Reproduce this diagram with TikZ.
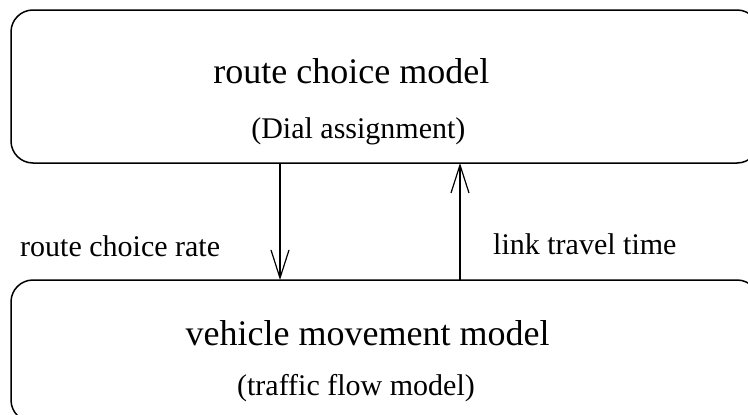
\documentclass[tikz,border=0pt]{standalone}
\usepackage{fontspec}
\setmainfont{Liberation Serif}
\usetikzlibrary{arrows.meta}

\begin{document}
\begin{tikzpicture}[x=1pt,y=-1pt,
    box/.style={draw,line width=1.5pt,rounded corners=22pt,inner sep=0pt,outer sep=0pt},
    title/.style={anchor=base,inner sep=0pt,font=\fontsize{36}{40}\selectfont},
    sub/.style={anchor=base,inner sep=0pt,font=\fontsize{30}{34}\selectfont},
    flow/.style={line width=1.2pt,-{Straight Barb[length=28pt,width=18pt,line width=1.2pt]}}]
    \useasboundingbox (0,0) rectangle (748,415);
    \clip (0,0) rectangle (748,415);
    \node[box,minimum width=748pt,minimum height=153pt] (rcm) at (385,86.5) {};
    \node[box,minimum width=748pt,minimum height=142pt] (vmm) at (385,351) {};
    \node[title] (rcmt) at (351.4,83) {route choice model};
    \node[sub] (rcms) at (358.4,138) {(Dial assignment)};
    \node[title] (vmmt) at (367.5,345) {vehicle movement model};
    \node[sub] (vmms) at (356,395) {(traffic flow model)};
    \coordinate (dn) at (280,0);
    \coordinate (up) at (460,0);
    \draw[flow] (rcm.south -| dn) -- (vmm.north -| dn);
    \draw[flow] (vmm.north -| up) -- (rcm.south -| up);
    \node[sub,anchor=base west] (rate) at (20,256) {route choice rate};
    \node[sub,anchor=base west] (time) at (493,254.5) {link travel time};
\end{tikzpicture}
\end{document}
